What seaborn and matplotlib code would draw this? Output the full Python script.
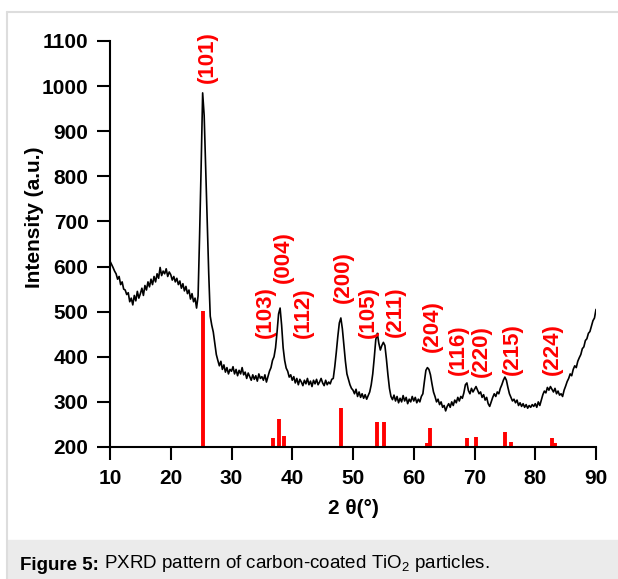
import numpy as np
import seaborn as sns
import matplotlib.pyplot as plt
from matplotlib.lines import Line2D
from matplotlib.patches import Rectangle

# measured PXRD intensity, 10-90 deg in 0.25 deg steps
intensity = [
    612, 605, 598, 590, 584, 572, 578, 560, 566, 550, 548, 538, 542, 522, 530, 515, 536, 524, 545, 530,
    540, 552, 536, 558, 548, 566, 555, 572, 560, 578, 566, 584, 574, 598, 580, 590, 584, 595, 578, 588,
    582, 570, 578, 566, 574, 560, 568, 552, 562, 546, 556, 540, 548, 528, 540, 522, 530, 508, 535, 670,
    820, 985, 935, 820, 700, 585, 490, 470, 455, 430, 405, 392, 380, 390, 372, 382, 366, 376, 362, 372,
    368, 378, 362, 372, 358, 370, 362, 376, 360, 366, 352, 364, 356, 348, 360, 350, 358, 346, 362, 352,
    356, 348, 360, 344, 356, 368, 376, 392, 400, 420, 455, 495, 508, 470, 420, 392, 375, 368, 355, 360,
    348, 356, 342, 352, 338, 350, 344, 336, 348, 340, 352, 338, 346, 334, 348, 340, 350, 338, 344, 352,
    342, 336, 348, 338, 344, 340, 350, 352, 378, 410, 445, 475, 486, 462, 425, 390, 362, 350, 338, 330,
    326, 318, 328, 312, 322, 310, 318, 308, 316, 306, 314, 322, 338, 362, 398, 438, 452, 430, 415, 425,
    432, 425, 395, 360, 330, 312, 305, 315, 302, 312, 298, 308, 300, 314, 302, 310, 296, 306, 300, 312,
    302, 310, 298, 306, 300, 312, 318, 345, 370, 376, 372, 360, 340, 322, 312, 300, 306, 294, 300, 288,
    292, 280, 290, 296, 288, 300, 292, 304, 298, 310, 302, 312, 308, 320, 338, 342, 325, 318, 330, 322,
    328, 334, 326, 318, 322, 310, 316, 304, 310, 296, 290, 300, 310, 318, 312, 322, 318, 330, 338, 348,
    355, 348, 332, 318, 310, 302, 306, 298, 304, 292, 298, 290, 296, 288, 294, 286, 292, 288, 294, 290,
    296, 288, 300, 292, 304, 316, 324, 320, 332, 326, 334, 328, 322, 330, 318, 324, 315, 318, 312, 326,
    335, 345, 352, 362, 358, 372, 380, 376, 390, 398, 405, 418, 422, 436, 440, 452, 456, 468, 480, 486,
    505,
]
two_theta = np.linspace(10, 90, len(intensity))

# reference (anatase) stick pattern
ref_pos = [25.3, 36.9, 37.8, 38.6, 48.0, 53.9, 55.1, 62.1, 62.7, 68.8, 70.3, 74.0, 75.0, 76.0, 80.7, 82.7, 83.2]
ref_height = [502, 220, 262, 225, 286, 255, 255, 209, 243, 220, 222, 203, 233, 211, 203, 220, 208]

# hkl labels: text x and bottom y
hkl_labels = ["(101)", "(103)", "(004)", "(112)", "(200)", "(105)", "(211)", "(204)", "(116)", "(220)", "(215)", "(224)"]
hkl_x = [26.0, 35.5, 38.5, 41.8, 48.4, 52.5, 56.9, 63.0, 67.3, 71.2, 76.2, 82.9]
hkl_y = [1007, 442, 564, 442, 519, 442, 444, 411, 360, 355, 360, 360]

sns.set_style("ticks")
plt.rcParams['font.family'] = ['Liberation Sans', 'DejaVu Sans']
plt.rcParams['mathtext.fontset'] = 'custom'
plt.rcParams['mathtext.rm'] = 'Liberation Sans'
plt.rcParams['mathtext.default'] = 'regular'
for key in ['text.color', 'axes.labelcolor', 'xtick.color', 'ytick.color', 'axes.edgecolor']:
    plt.rcParams[key] = 'black'

W, H = 618, 579
fig = plt.figure(figsize=(W / 100, H / 100), dpi=100)
ax = fig.add_axes([110 / W, 1 - 447 / H, (596 - 110) / W, (447 - 41) / H])

sns.lineplot(x=two_theta, y=intensity, ax=ax, color='black', linewidth=1.2, estimator=None, sort=False)
ax.vlines(ref_pos, 200, ref_height, color='#ff0000', linewidth=2.8)

for lab, lx, ly in zip(hkl_labels, hkl_x, hkl_y):
    ax.text(lx, ly, lab, rotation=90, ha='center', va='bottom', color='#ff0000',
            fontweight='bold', fontsize=16)

ax.set_xlim(10, 90)
ax.set_ylim(200, 1100)
ax.set_xticks(range(10, 91, 10))
ax.set_yticks(range(200, 1101, 100))
sns.despine(ax=ax)
for s in ['left', 'bottom']:
    ax.spines[s].set_linewidth(1.5)
ax.tick_params(axis='both', direction='out', length=9.5, width=1.5, labelsize=15, pad=6)
for lbl in ax.get_xticklabels() + ax.get_yticklabels():
    lbl.set_fontweight('bold')

ax.set_xlabel("2 θ(°)", fontsize=15, fontweight='bold', labelpad=8)
ax.set_ylabel("Intensity (a.u.)", fontsize=15, fontweight='bold')
ax.yaxis.set_label_coords(-0.135, 0.566)

# page frame and caption band
fig.add_artist(Line2D([7 / W, 1], [1 - 12 / H] * 2, color='#dddddd', linewidth=1.5))
fig.add_artist(Line2D([7 / W, 7 / W], [0, 1 - 12 / H], color='#dddddd', linewidth=1.5))
fig.add_artist(Rectangle((8 / W, 0), 1, 39 / H, color='#ebebeb', zorder=0))
cap = fig.text(20 / W, 5 / H, "Figure 5:", fontsize=13.5, fontweight='bold', va='bottom', ha='left')
ax.annotate(" PXRD pattern of carbon-coated TiO$_2$ particles.", xy=(1, 0), xycoords=cap,
            va='bottom', ha='left', fontsize=13.5, annotation_clip=False)

fig.savefig('out.png', dpi=100)
